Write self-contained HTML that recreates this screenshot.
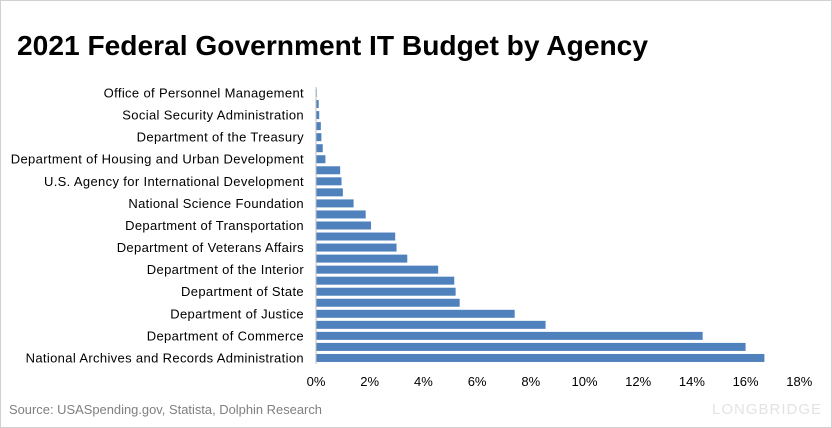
<!DOCTYPE html>
<html><head><meta charset="utf-8"><style>
html,body{margin:0;padding:0;background:#fff;}
svg{display:block;font-family:"Liberation Sans","Noto Sans CJK SC",sans-serif;}
</style></head><body>
<svg id="c" width="832" height="428" viewBox="0 0 832 428">
<rect x="0.5" y="0.5" width="831" height="427" fill="#fff" stroke="#d0d0d0"/>
<text x="17" y="55" font-size="28" font-weight="bold" fill="#000" textLength="631" lengthAdjust="spacingAndGlyphs">2021 Federal Government IT Budget by Agency</text>
<text x="9" y="414" font-size="13" fill="#7f7f7f" textLength="313" lengthAdjust="spacingAndGlyphs">Source: USASpending.gov, Statista, Dolphin Research</text>
<text x="712" y="414" font-size="15" fill="#e3e3e3" letter-spacing="1">LONGBRIDGE</text>
<g id="plot"></g>
</svg>
<script>
const categories=["Office of Personnel Management","","Social Security Administration","","Department of the Treasury","","Department of Housing and Urban Development","","U.S. Agency for International Development","","National Science Foundation","","Department of Transportation","","Department of Veterans Affairs","","Department of the Interior","","Department of State","","Department of Justice","","Department of Commerce","","National Archives and Records Administration"];
const values=[0.03,0.1,0.12,0.18,0.2,0.25,0.35,0.9,0.95,1.0,1.4,1.85,2.05,2.95,3.0,3.4,4.55,5.15,5.2,5.35,7.4,8.55,14.4,16.0,16.7];
const ticks=[0,2,4,6,8,10,12,14,16,18];
const ns="http://www.w3.org/2000/svg";
const g=document.getElementById('plot');
const x0=316, pxPer=26.85, yTop=93, step=11.04, bh=8;
const xs=v=>x0+v*pxPer;
const ys=i=>yTop+i*step;
function mk(t,a){const e=document.createElementNS(ns,t);for(const k in a)e.setAttribute(k,a[k]);g.appendChild(e);return e;}
values.forEach((v,i)=>{
  const r=mk('rect',{x:xs(0),y:ys(i)-bh/2,width:xs(v)-xs(0),height:bh,fill:'#4f81bd'});
  
  
  if(categories[i]){
    const t=mk('text',{x:304,y:ys(i)+4.5,'font-size':13,'letter-spacing':0.35,'text-anchor':'end',fill:'#000'});
    t.textContent=categories[i];
    
    
  }
});
const ax=mk('line',{x1:x0,y1:ys(0)-6,x2:x0,y2:ys(values.length-1)+6,stroke:'#bfbfbf','stroke-width':1});


ticks.forEach(t=>{
  const e=mk('text',{x:xs(t),y:386,'font-size':13,'text-anchor':'middle',fill:'#000'});
  e.textContent=t+'%';
  
  
});
</script>
</body></html>
